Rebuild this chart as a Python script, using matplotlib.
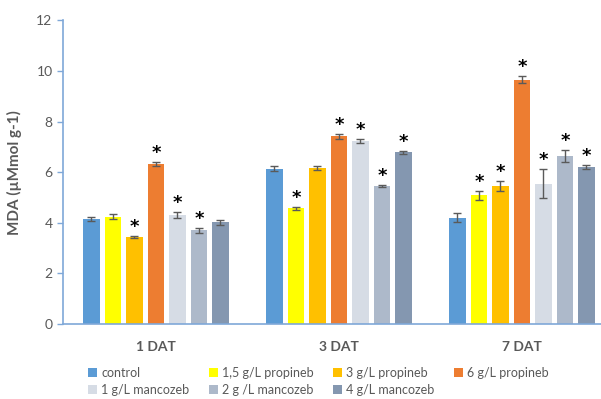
import matplotlib
matplotlib.use("Agg")
import matplotlib.pyplot as plt
import numpy as np

plt.rcParams['font.family'] = ['Lato', 'DejaVu Sans']

days = ['1 DAT', '3 DAT', '7 DAT']
treatments = ['control', '1,5 g/L propineb', '3 g/L propineb', '6 g/L propineb',
              '1 g/L mancozeb', '2 g /L mancozeb', '4 g/L mancozeb']
colors = ['#5B9BD5', '#FFFF00', '#FFC000', '#ED7D31',
          '#D6DCE5', '#ADB9CA', '#8497B0']

# MDA per treatment, one value per day
mda = [
    [4.16, 6.14, 4.20],
    [4.24, 4.58, 5.08],
    [3.44, 6.15, 5.44],
    [6.33, 7.41, 9.65],
    [4.29, 7.24, 5.55],
    [3.70, 5.46, 6.64],
    [4.02, 6.78, 6.19],
]
err = [
    [0.08, 0.10, 0.18],
    [0.10, 0.06, 0.17],
    [0.05, 0.08, 0.20],
    [0.07, 0.10, 0.13],
    [0.12, 0.08, 0.58],
    [0.10, 0.05, 0.24],
    [0.10, 0.07, 0.08],
]
# significance marks
signif = [
    [False, False, False],
    [False, True, True],
    [True, False, True],
    [True, True, True],
    [True, True, True],
    [True, True, True],
    [False, True, True],
]

TXT = '#595959'
AX = '#7FA8D8'

fig = plt.figure(figsize=(6.01, 3.99), dpi=100)
ax = fig.add_axes([63 / 601, 75 / 399, 538 / 601, 303.7 / 399])

x = np.arange(len(days))
step = 0.1175
width = 0.09
handles = []
for i, name in enumerate(treatments):
    pos = x + (i - 3) * step
    b = ax.bar(pos, mda[i], width, color=colors[i], label=name, zorder=2)
    ax.errorbar(pos, mda[i], yerr=err[i], fmt='none', ecolor='#5a5a5a',
                elinewidth=1, capsize=3, capthick=1, zorder=3)
    handles.append(b)
    for j in range(len(days)):
        if signif[i][j]:
            ax.annotate('*', (pos[j], mda[i][j] + err[i][j]),
                        xytext=(0, 0), textcoords='offset points',
                        ha='center', va='bottom', fontsize=13,
                        fontweight='bold', color='black',
                        family='DejaVu Sans')

ax.set_xlim(-0.508, 2.432)
ax.set_ylim(0, 12)
ax.set_yticks(range(0, 13, 2))
ax.set_xticks(x)
ax.set_xticklabels(days, fontweight='bold', fontsize=10, color=TXT)
ax.tick_params(axis='x', length=0, pad=12)
ax.tick_params(axis='y', colors=AX, labelcolor=TXT, labelsize=10,
               length=4, width=1)
for s in ['top', 'right']:
    ax.spines[s].set_visible(False)
ax.spines['left'].set_color(AX)
ax.spines['bottom'].set_color(AX)
ax.spines['left'].set_linewidth(1.2)
ax.spines['bottom'].set_linewidth(1.2)

ax.set_ylabel('MDA (µMmol g-1)', fontweight='bold', fontsize=11,
              color=TXT, labelpad=10)

# row-major order for a 4-column legend
order = [0, 4, 1, 5, 2, 6, 3]
leg = fig.legend([handles[k] for k in order], [treatments[k] for k in order],
                 ncol=4, loc='lower left', bbox_to_anchor=(82 / 601, -3 / 399),
                 frameon=False, fontsize=9, handlelength=0.7,
                 handleheight=0.7, handletextpad=0.35, columnspacing=1.55,
                 labelspacing=0.4, borderaxespad=0.1)
for t in leg.get_texts():
    t.set_color(TXT)

fig.savefig('out.png', dpi=100)
